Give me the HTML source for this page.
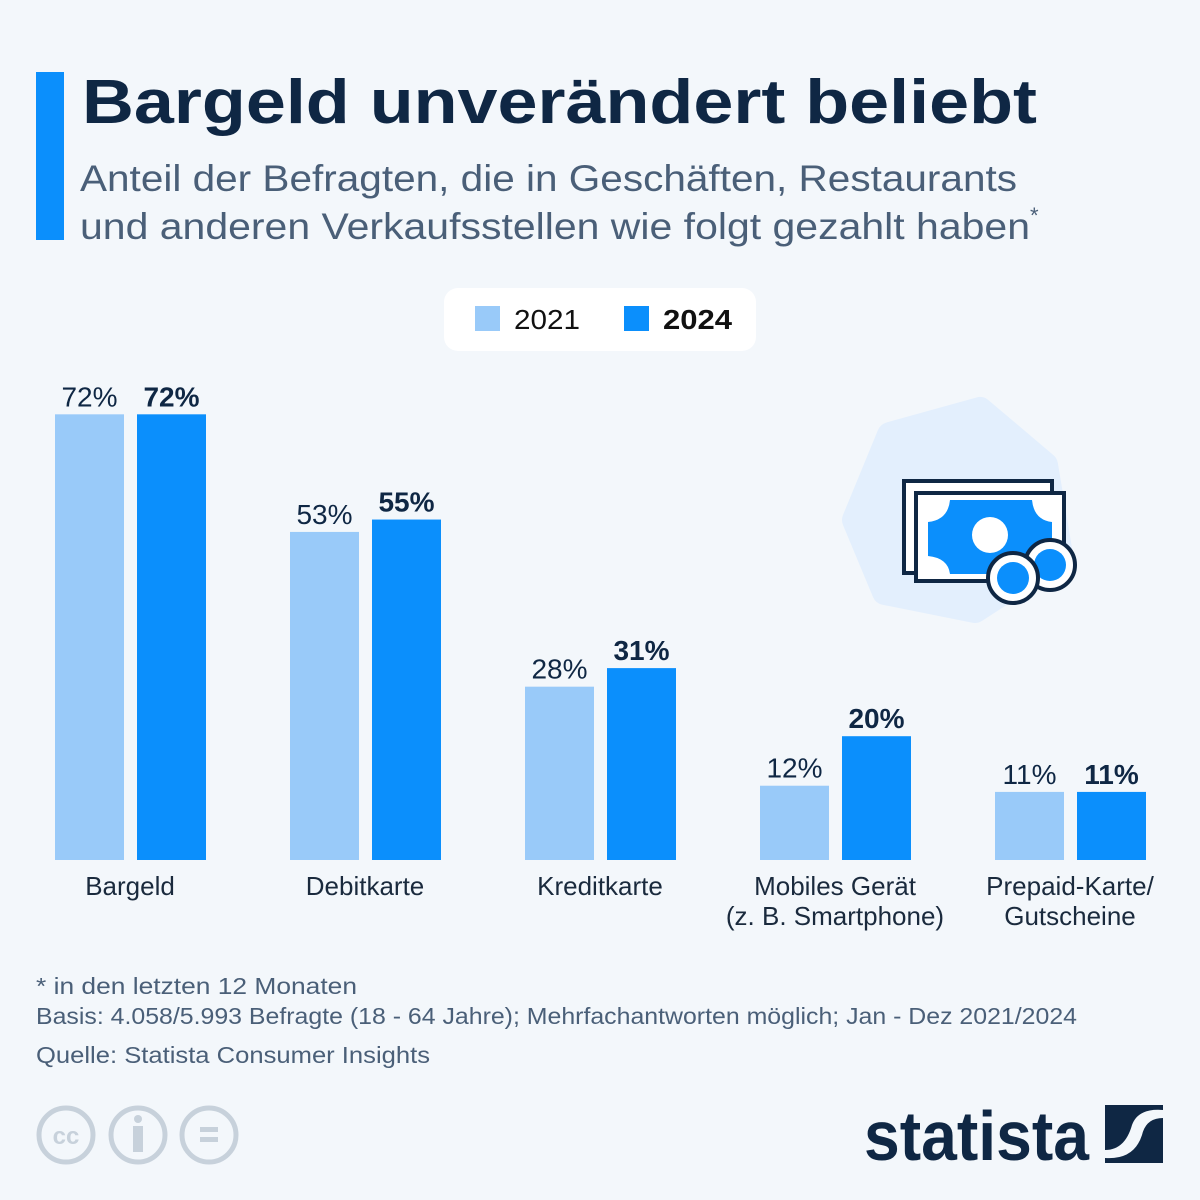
<!DOCTYPE html>
<html><head><meta charset="utf-8"><style>
html,body{margin:0;padding:0;background:#f3f7fb;}
svg{display:block;font-family:"Liberation Sans","DejaVu Sans",sans-serif;}
</style></head><body>
<svg width="1200" height="1200" viewBox="0 0 1200 1200">
<rect x="0" y="0" width="1200" height="1200" fill="#f3f7fb"/>
<rect x="36" y="72" width="28" height="168" fill="#0b8ffc"/>
<text x="82" y="123" font-size="62" font-weight="bold" fill="#0f2744" textLength="955" lengthAdjust="spacingAndGlyphs">Bargeld unverändert beliebt</text>
<text x="80" y="191" font-size="37" fill="#4a5f78" textLength="937" lengthAdjust="spacingAndGlyphs">Anteil der Befragten, die in Geschäften, Restaurants</text>
<text x="80" y="239" font-size="37" fill="#4a5f78"><tspan textLength="950" lengthAdjust="spacingAndGlyphs">und anderen Verkaufsstellen wie folgt gezahlt haben</tspan><tspan font-size="22" dy="-16">*</tspan></text>

<g>
<rect x="444" y="288" width="312" height="63" rx="14" fill="#ffffff"/>
<rect x="475" y="306" width="25" height="25" fill="#99caf9"/>
<text x="514" y="329" font-size="28" fill="#111" textLength="66" lengthAdjust="spacingAndGlyphs">2021</text>
<rect x="624" y="306" width="25" height="25" fill="#0b8ffc"/>
<text x="663" y="329" font-size="28" font-weight="bold" fill="#111" textLength="69" lengthAdjust="spacingAndGlyphs">2024</text>
</g>

<g>
<path d="M890 435 L980 410 L1045 465 L1060 555 L975 610 L885 592 L855 520 Z" fill="#e3effd" stroke="#e3effd" stroke-width="26" stroke-linejoin="round"/>
<rect x="904" y="481" width="148" height="92" fill="#fff" stroke="#0f2744" stroke-width="4"/>
<rect x="916" y="493" width="148" height="88" fill="#fff" stroke="#0f2744" stroke-width="4"/>
<path d="M950 500 H1032 Q1034 520 1052 522 V556 Q1034 558 1032 574 H950 Q948 558 928 556 V522 Q948 520 950 500 Z" fill="#0b8ffc"/>
<circle cx="990" cy="535" r="18" fill="#fff"/>
<circle cx="1050" cy="565" r="25" fill="#fff" stroke="#0f2744" stroke-width="4"/>
<circle cx="1050" cy="565" r="16" fill="#0b8ffc"/>
<circle cx="1013" cy="578" r="25" fill="#fff" stroke="#0f2744" stroke-width="4"/>
<circle cx="1013" cy="578" r="16" fill="#0b8ffc"/>
</g>

<g id="chart"></g>

<text x="36" y="994" font-size="23" fill="#4a5f78" textLength="321" lengthAdjust="spacingAndGlyphs">* in den letzten 12 Monaten</text>
<text x="36" y="1024" font-size="23" fill="#4a5f78" textLength="1041" lengthAdjust="spacingAndGlyphs">Basis: 4.058/5.993 Befragte (18 - 64 Jahre); Mehrfachantworten möglich; Jan - Dez 2021/2024</text>
<text x="36" y="1063" font-size="23" fill="#4a5f78" textLength="394" lengthAdjust="spacingAndGlyphs">Quelle: Statista Consumer Insights</text>

<g fill="none" stroke="#c7d1db" stroke-width="5">
<ellipse cx="66" cy="1135" rx="27" ry="27"/>
<ellipse cx="138" cy="1135" rx="27" ry="27"/>
<ellipse cx="209" cy="1135" rx="27" ry="27"/>
<text x="66" y="1144" font-size="24" font-weight="bold" fill="#c7d1db" stroke="none" text-anchor="middle">cc</text>
<circle cx="138" cy="1119" r="4" fill="#c7d1db" stroke="none"/>
<rect x="133" y="1126" width="10" height="26" fill="#c7d1db" stroke="none"/>
<rect x="200" y="1127" width="18" height="5" fill="#c7d1db" stroke="none"/>
<rect x="200" y="1137" width="18" height="5" fill="#c7d1db" stroke="none"/>
</g>
<text x="864" y="1160" font-size="70" font-weight="bold" fill="#0f2744" textLength="225" lengthAdjust="spacingAndGlyphs">statista</text>
<g>
<rect x="1105" y="1105" width="58" height="58" fill="#0f2744"/>
<path d="M1105 1150 Q1125 1150 1132 1125 Q1138 1108 1163 1110 V1118 Q1146 1118 1142 1135 Q1134 1160 1105 1158 Z" fill="#f3f7fb"/>
</g>
</svg>
<script>
const categories = ["Bargeld", "Debitkarte", "Kreditkarte", "Mobiles Gerät|(z. B. Smartphone)", "Prepaid-Karte/|Gutscheine"];
const values2021 = [72, 53, 28, 12, 11];
const values2024 = [72, 55, 31, 20, 11];
const labels2021 = ["72%", "53%", "28%", "12%", "11%"];
const labels2024 = ["72%", "55%", "31%", "20%", "11%"];

const NS = "http://www.w3.org/2000/svg";
const g = document.getElementById("chart");
const baseY = 860, pxPerPct = 6.19;
const y = v => baseY - v * pxPerPct;
const groupX = i => 55 + i * 235;
const barW = 69;
function mk(tag, attrs) { const e = document.createElementNS(NS, tag); for (const k in attrs) e.setAttribute(k, attrs[k]); g.appendChild(e); return e; }

categories.forEach((cat, i) => {
  const x1 = groupX(i), x2 = x1 + 82;
  const b1 = mk("rect", {x: x1, y: y(values2021[i]), width: barW, height: baseY - y(values2021[i]), fill: "#99caf9"});
  
  
  const b2 = mk("rect", {x: x2, y: y(values2024[i]), width: barW, height: baseY - y(values2024[i]), fill: "#0b8ffc"});
  
  
  const t1 = mk("text", {x: x1 + barW / 2, y: y(values2021[i]) - 8, "font-size": 28, fill: "#0f2744", "text-anchor": "middle"});
  t1.textContent = labels2021[i];
  
  
  const t2 = mk("text", {x: x2 + barW / 2, y: y(values2024[i]) - 8, "font-size": 28, "font-weight": "bold", fill: "#0f2744", "text-anchor": "middle"});
  t2.textContent = labels2024[i];
  
  
  const lines = cat.split("|");
  lines.forEach((ln, j) => {
    const c = mk("text", {x: x1 + 75, y: 895 + j * 30, "font-size": 26, fill: "#1a2a3d", "text-anchor": "middle"});
    c.textContent = ln;
    
    
  });
});
</script>
</body></html>
